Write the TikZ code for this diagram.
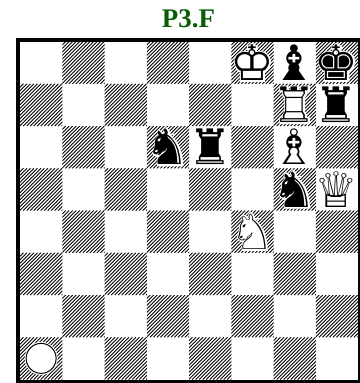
\documentclass[tikz,border=0pt]{standalone}
\usepackage{fontspec}
\setmainfont{Liberation Serif}
\newfontfamily\chessfont{DejaVu Sans}
\newfontfamily\chesshalo[FakeBold=6]{DejaVu Sans}
\definecolor{titlegreen}{RGB}{8,92,8}
\def\sqs{42.25}
\def\bx{20}
\def\by{41.5}
\tikzset{
  piece/.style={inner sep=0pt, outer sep=0pt, font=\fontsize{49}{54}\selectfont},
  hatch/.style={line width=0.8bp, black},
  border/.style={line width=4bp, black},
  marker/.style={circle, draw=black, line width=1bp, fill=white, minimum size=30bp, inner sep=0pt},
  markerhalo/.style={circle, fill=white, minimum size=33bp, inner sep=0pt}
}
\newcommand\whitepiece[5]{%
  \node[piece, text=white] (#1h) at ({\bx+(#2+0.5)*\sqs},{\by+(#3+0.5)*\sqs}) {\chesshalo #4};
  \node[piece, text=black] (#1) at ({\bx+(#2+0.5)*\sqs},{\by+(#3+0.5)*\sqs}) {\chessfont #5};
}
\newcommand\blackpiece[4]{%
  \node[piece, text=white] (#1h) at ({\bx+(#2+0.5)*\sqs},{\by+(#3+0.5)*\sqs}) {\chesshalo #4};
  \node[piece, text=black] (#1) at ({\bx+(#2+0.5)*\sqs},{\by+(#3+0.5)*\sqs}) {\chessfont #4};
}
\begin{document}
\begin{tikzpicture}[x=1bp, y=-1bp]
\useasboundingbox (0,0) rectangle (360,383);
\fill[white] (0,0) rectangle (360,383);
% title
\node[font=\bfseries\fontsize{27}{30}\selectfont, text=titlegreen, inner sep=0pt] (title) at (188.5,18.8) {P3.F};
% dark squares
\foreach \c in {0,...,7}{
  \foreach \r in {0,...,7}{
    \pgfmathtruncatemacro\sqpar{mod(\c+\r,2)}
    \ifnum\sqpar=1
      \begin{scope}
        \clip ({\bx+\c*\sqs},{\by+\r*\sqs}) rectangle ++(\sqs,\sqs);
        \foreach \t in {0,3.5,...,88}{
          \draw[hatch] ({\bx+\c*\sqs+\t-\sqs},{\by+\r*\sqs+\sqs}) -- ++(\sqs,-\sqs);
        }
      \end{scope}
    \fi
  }
}
% border
\draw[border] (18,39.5) rectangle (360,381.5);
% pieces
\whitepiece{wk}{5}{0}{♚}{♔}
\blackpiece{bb}{6}{0}{♝}
\blackpiece{bk}{7}{0}{♚}
\whitepiece{wr}{6}{1}{♜}{♖}
\blackpiece{br}{7}{1}{♜}
\blackpiece{bn}{3}{2}{♞}
\blackpiece{brr}{4}{2}{♜}
\whitepiece{wb}{6}{2}{♝}{♗}
\blackpiece{bnn}{6}{3}{♞}
\whitepiece{wq}{7}{3}{♛}{♕}
\whitepiece{wn}{5}{4}{♞}{♘}
% marker
\node[markerhalo] (markh) at ({\bx+0.5*\sqs},{\by+7.5*\sqs}) {};
\node[marker] (mark) at ({\bx+0.5*\sqs},{\by+7.5*\sqs}) {};
\end{tikzpicture}
\end{document}
